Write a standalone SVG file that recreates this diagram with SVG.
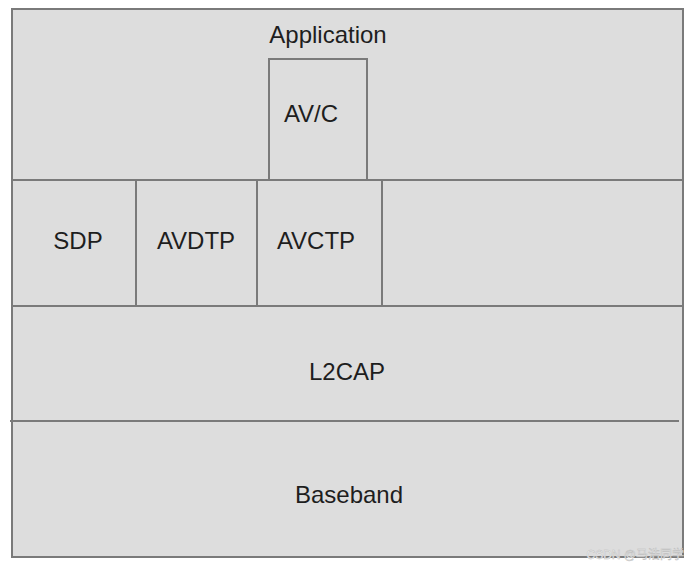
<svg xmlns="http://www.w3.org/2000/svg" width="692" height="569" viewBox="0 0 692 569">
<style>
.box{fill:#dddddd;stroke:#7a7a7a;stroke-width:2}
.ln{stroke:#7a7a7a;stroke-width:2;fill:none}
.t{font-family:"Liberation Sans",Arial,sans-serif;font-size:24px;fill:#1e1e1e;text-anchor:middle}
.wm{font-family:"Liberation Sans","Noto Sans CJK SC",sans-serif;font-size:12px;fill:#ffffff;stroke:#bbbbbb;stroke-width:0.5;text-anchor:end}
</style>
<rect x="0" y="0" width="692" height="569" fill="#ffffff"/>
<g id="stack">
<rect class="box" x="12" y="9" width="671" height="548"/>
</g>
<g id="application"><text class="t" x="328" y="43">Application</text></g>
<g id="avc"><rect class="box" x="269" y="59" width="98" height="121"/><text class="t" x="311" y="122">AV/C</text></g>
<g id="connectors">
<line class="ln" x1="12" y1="180" x2="683" y2="180"/>
<line class="ln" x1="12" y1="306" x2="683" y2="306"/>
<line class="ln" x1="10" y1="421" x2="679" y2="421" stroke-width="2.5"/>
<line class="ln" x1="136" y1="180" x2="136" y2="306"/>
<line class="ln" x1="257" y1="180" x2="257" y2="306"/>
<line class="ln" x1="382" y1="180" x2="382" y2="306"/>
</g>
<g id="sdp"><text class="t" x="78" y="249">SDP</text></g>
<g id="avdtp"><text class="t" x="196" y="249">AVDTP</text></g>
<g id="avctp"><text class="t" x="316" y="249">AVCTP</text></g>
<g id="l2cap"><text class="t" x="347" y="380">L2CAP</text></g>
<g id="baseband"><text class="t" x="349" y="503">Baseband</text></g>
<text class="wm" x="684" y="559">CSDN @马浩同学</text>
</svg>
